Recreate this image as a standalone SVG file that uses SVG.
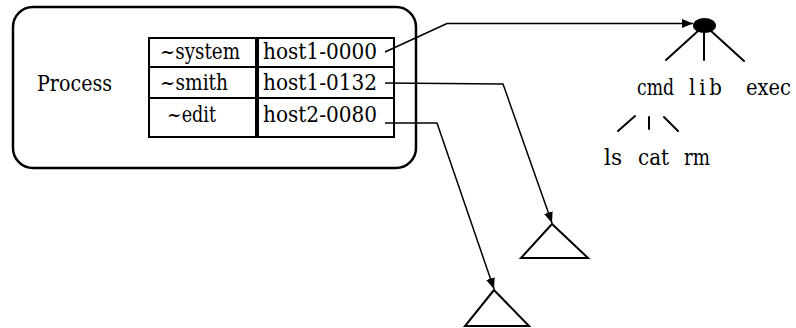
<svg xmlns="http://www.w3.org/2000/svg" width="796" height="328" viewBox="0 0 796 328">
  <style>
    text { font-family: "DejaVu Serif Condensed", "DejaVu Serif", serif; font-size: 22px; fill: #000; }
    .frame { fill: none; stroke: #000; stroke-width: 2.5; }
    .cell { fill: #fff; stroke: #000; stroke-width: 2; }
    .conn { fill: none; stroke: #000; stroke-width: 1.5; stroke-linejoin: round; }
    .edge { fill: none; stroke: #000; stroke-width: 2; stroke-linecap: round; }
    .subtree { fill: none; stroke: #000; stroke-width: 2; stroke-linejoin: miter; }
  </style>
  <defs>
    <marker id="arrow" markerUnits="userSpaceOnUse" markerWidth="12" markerHeight="10" refX="11" refY="4.5" orient="auto">
      <path d="M0,0 L11,4.5 L0,9 z" fill="#000"/>
    </marker>
  </defs>
  <rect width="796" height="328" fill="#fff"/>

  <!-- process box with its name table -->
  <g id="process">
    <rect class="frame" x="13" y="7" width="403" height="161" rx="20" ry="20"/>
    <text x="37" y="91" textLength="75" lengthAdjust="spacingAndGlyphs">Process</text>
  </g>

  <g id="name-table">
    <rect class="cell" x="149" y="38" width="245" height="99"/>
    <line x1="149" y1="67" x2="394" y2="67" stroke="#000" stroke-width="2"/>
    <line x1="149" y1="98" x2="394" y2="98" stroke="#000" stroke-width="2"/>
    <line x1="257" y1="38" x2="257" y2="137" stroke="#000" stroke-width="4"/>
    <text x="160" y="59" textLength="80" lengthAdjust="spacingAndGlyphs">~system</text>
    <text x="160" y="90" textLength="68" lengthAdjust="spacingAndGlyphs">~smith</text>
    <text x="167" y="122" textLength="49" lengthAdjust="spacingAndGlyphs">~edit</text>
    <text x="263" y="59" textLength="114" lengthAdjust="spacingAndGlyphs">host1-0000</text>
    <text x="263" y="90" textLength="114" lengthAdjust="spacingAndGlyphs">host1-0132</text>
    <text x="263" y="122" textLength="114" lengthAdjust="spacingAndGlyphs">host2-0080</text>
  </g>

  <!-- root tree on host1 -->
  <g id="root-tree">
    <ellipse cx="704.5" cy="25.5" rx="11.5" ry="7.5" fill="#000"/>
    <line class="edge" x1="698" y1="31" x2="666" y2="60"/>
    <line class="edge" x1="704" y1="32" x2="704" y2="60"/>
    <line class="edge" x1="711" y1="31" x2="744" y2="61"/>
    <text x="637" y="95" textLength="37" lengthAdjust="spacingAndGlyphs">cmd</text>
    <text x="689" y="95" textLength="33" lengthAdjust="spacing">lib</text>
    <text x="746" y="95" textLength="45" lengthAdjust="spacingAndGlyphs">exec</text>
    <line class="edge" x1="618" y1="131" x2="635" y2="116"/>
    <line class="edge" x1="649" y1="117" x2="649" y2="129"/>
    <line class="edge" x1="664" y1="117" x2="678" y2="131"/>
    <text x="604" y="165" textLength="18" lengthAdjust="spacingAndGlyphs">ls</text>
    <text x="638" y="165" textLength="31" lengthAdjust="spacingAndGlyphs">cat</text>
    <text x="684" y="165" textLength="26" lengthAdjust="spacingAndGlyphs">rm</text>
  </g>

  <!-- subtrees for the other two names -->
  <g id="tree-smith">
    <polygon class="subtree" points="552,224 521,258 588,258"/>
  </g>
  <g id="tree-edit">
    <polygon class="subtree" points="494,290 465,326 529,326"/>
  </g>

  <!-- connectors from names to trees -->
  <g id="connectors">
    <polyline class="conn" points="385,52 447,23.5 693,23.5" marker-end="url(#arrow)"/>
    <polyline class="conn" points="385,83 503,84 552,223" marker-end="url(#arrow)"/>
    <polyline class="conn" points="385,123 437,123 494,289" marker-end="url(#arrow)"/>
  </g>
</svg>
